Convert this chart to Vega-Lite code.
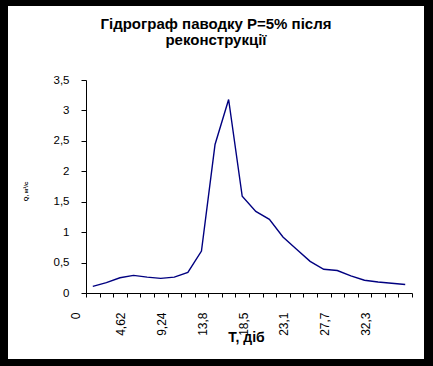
{
  "$schema": "https://vega.github.io/schema/vega-lite/v6.json",
  "width": 416,
  "height": 353,
  "autosize": {"type": "none"},
  "padding": {"left": 8, "top": 6, "right": 9, "bottom": 7},
  "background": "black",
  "config": {
    "view": {"fill": "white", "stroke": null},
    "font": "Liberation Sans"
  },
  "title": {
    "text": ["Гідрограф паводку Р=5% після", "реконструкції"],
    "font": "Liberation Sans",
    "fontSize": 15,
    "fontWeight": "bold",
    "color": "black",
    "anchor": "middle",
    "frame": "group",
    "offset": -42,
    "lineHeight": 16
  },
  "data": {
    "values": [
      {"T": 1.54, "Q": 0.11},
      {"T": 3.08, "Q": 0.17},
      {"T": 4.62, "Q": 0.25},
      {"T": 6.16, "Q": 0.29},
      {"T": 7.70, "Q": 0.26},
      {"T": 9.24, "Q": 0.24},
      {"T": 10.78, "Q": 0.26},
      {"T": 12.32, "Q": 0.34},
      {"T": 13.86, "Q": 0.69},
      {"T": 15.40, "Q": 2.44},
      {"T": 16.94, "Q": 3.18},
      {"T": 18.48, "Q": 1.59},
      {"T": 20.02, "Q": 1.34},
      {"T": 21.56, "Q": 1.21},
      {"T": 23.10, "Q": 0.92},
      {"T": 24.64, "Q": 0.72},
      {"T": 26.18, "Q": 0.52},
      {"T": 27.72, "Q": 0.39},
      {"T": 29.26, "Q": 0.37},
      {"T": 30.80, "Q": 0.28},
      {"T": 32.34, "Q": 0.21},
      {"T": 33.88, "Q": 0.18},
      {"T": 35.42, "Q": 0.16},
      {"T": 36.96, "Q": 0.14}
    ]
  },
  "mark": {"type": "line", "color": "#000080", "strokeWidth": 1.4},
  "encoding": {
    "x": {
      "field": "T",
      "type": "quantitative",
      "scale": {"domain": [0.77, 37.73], "range": [78, 404], "nice": false, "zero": false},
      "axis": {
        "title": "Т, діб",
        "titleFont": "Liberation Sans",
        "titleFontSize": 14,
        "titleFontWeight": "bold",
        "titleColor": "black",
        "titleX": 238,
        "titleY": 48,
        "titleAlign": "center",
        "titleBaseline": "alphabetic",
        "offset": -66,
        "grid": false,
        "domainColor": "black",
        "domainWidth": 1,
        "tickColor": "black",
        "tickSize": 4,
        "tickWidth": 1,
        "tickOpacity": {"condition": {"test": "abs(datum.value/1.54 - round(datum.value/1.54)) < 0.01", "value": 0}, "value": 1},
        "values": [0.77, 2.31, 3.85, 5.39, 6.93, 8.47, 10.01, 11.55, 13.09, 14.63, 16.17, 17.71, 19.25, 20.79, 22.33, 23.87, 25.41, 26.95, 28.49, 30.03, 31.57, 33.11, 34.65, 36.19, 37.73, 4.62, 9.24, 13.86, 18.48, 23.1, 27.72, 32.34],
        "labelExpr": "abs(datum.value - 0.77) < 0.01 ? '0' : (abs(datum.value/1.54 - round(datum.value/1.54)) < 0.01 ? ['0','4,62','9,24','13,8','18,5','23,1','27,7','32,3'][round(datum.value/4.62)] : '')",
        "labelOffset": {"condition": {"test": "abs(datum.value - 0.77) < 0.01", "value": -11}, "value": 1},
        "labelAngle": 270,
        "labelFont": "Liberation Sans",
        "labelFontSize": 12,
        "labelColor": "black",
        "labelPadding": 15,
        "labelOverlap": false,
        "labelFlush": false,
        "labelBound": false
      }
    },
    "y": {
      "field": "Q",
      "type": "quantitative",
      "scale": {"domain": [0, 3.5], "range": [287, 74], "nice": false, "zero": true},
      "axis": {
        "title": "Q, м³/с",
        "titleFont": "Liberation Sans",
        "titleFontSize": 6,
        "titleFontWeight": "bold",
        "titleColor": "black",
        "titleAngle": 270,
        "titleX": -61,
        "titleY": 185,
        "titleAlign": "center",
        "titleBaseline": "middle",
        "offset": -78,
        "grid": false,
        "domainColor": "black",
        "domainWidth": 1,
        "tickColor": "black",
        "tickSize": 5,
        "tickWidth": 1,
        "values": [0, 0.5, 1, 1.5, 2, 2.5, 3, 3.5],
        "labelExpr": "replace(toString(datum.value), '.', ',')",
        "labelFont": "Liberation Sans",
        "labelFontSize": 11.5,
        "labelColor": "black",
        "labelPadding": 12,
        "labelOverlap": false,
        "labelFlush": false,
        "labelBound": false
      }
    }
  }
}
